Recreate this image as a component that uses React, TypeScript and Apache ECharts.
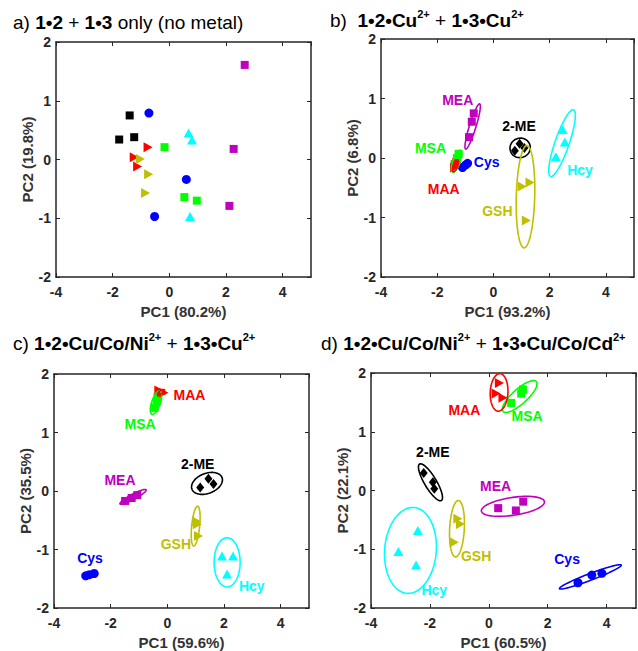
import React, { useEffect, useRef } from "react";
import * as echarts from "echarts";

// ---------- data ----------
const GROUP_NAMES = ["MEA", "2-ME", "Cys", "Hcy", "MSA", "MAA", "GSH"];

const PC1_LABELS = ["PC1 (80.2%)", "PC1 (93.2%)", "PC1 (59.6%)", "PC1 (60.5%)"];
const PC2_LABELS = ["PC2 (19.8%)", "PC2 (6.8%)", "PC2 (35.5%)", "PC2 (22.1%)"];

const X_MIN = -4, X_MAX = 5, X_STEP = 2;
const Y_MIN = -2, Y_MAX = 2, Y_STEP = 1;

// a) no metal
const scoresA: Record<string, number[][]> = {
  MEA: [[2.66, 1.61], [2.27, 0.18], [2.12, -0.79]],
  "2-ME": [[-1.4, 0.75], [-1.77, 0.34], [-1.24, 0.38]],
  Cys: [[-0.72, 0.79], [0.6, -0.34], [-0.52, -0.97]],
  Hcy: [[0.68, 0.45], [0.8, 0.33], [0.73, -0.97]],
  MSA: [[-0.17, 0.21], [0.53, -0.64], [0.97, -0.7]],
  MAA: [[-0.75, 0.21], [-1.24, 0.04], [-1.12, -0.12]],
  GSH: [[-1.02, 0.01], [-0.73, -0.25], [-0.84, -0.57]],
};

// b) Cu
const scoresB: Record<string, number[][]> = {
  MEA: [[-0.87, 0.35], [-0.77, 0.61], [-0.7, 0.75]],
  "2-ME": [[0.76, 0.12], [0.93, 0.24], [1.1, 0.17]],
  Cys: [[-1.1, -0.16], [-1.0, -0.12], [-0.92, -0.09]],
  Hcy: [[2.46, 0.48], [2.54, 0.27], [2.22, 0.02]],
  MSA: [[-1.38, -0.1], [-1.3, 0.0], [-1.24, 0.07]],
  MAA: [[-1.38, -0.16], [-1.33, -0.12], [-1.3, -0.08]],
  GSH: [[1.02, -0.48], [1.3, -0.41], [1.17, -1.05]],
};
// [group, centre x, centre y, semi-major dx, semi-major dy, minor/major ratio]
const ellipsesB: [string, number, number, number, number, number][] = [
  ["MEA", -0.74, 0.53, 0.25, 0.38, 0.14],
  ["2-ME", 0.95, 0.17, 0.34, 0.06, 0.95],
  ["Cys", -1.01, -0.125, 0.12, 0.05, 0.5],
  ["Hcy", 2.44, 0.25, 0.41, 0.56, 0.2],
  ["MSA", -1.31, -0.055, 0.14, 0.185, 0.3],
  ["MAA", -1.35, -0.13, 0.08, 0.1, 0.35],
  ["GSH", 1.14, -0.65, 0.05, 0.86, 0.18],
];
const labelsB: [string, number, number][] = [
  ["MEA", -1.27, 0.98], ["MSA", -2.24, 0.17], ["MAA", -1.77, -0.52], ["Cys", -0.24, -0.07],
  ["2-ME", 0.91, 0.53], ["GSH", 0.14, -0.89], ["Hcy", 3.08, -0.2],
];

// c) Cu/Co/Ni + Cu
const scoresC: Record<string, number[][]> = {
  MEA: [[-1.49, -0.17], [-1.26, -0.12], [-1.06, -0.07]],
  "2-ME": [[1.16, 0.06], [1.45, 0.21], [1.63, 0.12]],
  Cys: [[-2.88, -1.45], [-2.75, -1.43], [-2.58, -1.41]],
  Hcy: [[1.93, -1.11], [2.32, -1.11], [2.11, -1.42]],
  MSA: [[-0.45, 1.42], [-0.38, 1.52], [-0.35, 1.6]],
  MAA: [[-0.3, 1.72], [-0.2, 1.69], [-0.12, 1.68]],
  GSH: [[1.04, -0.52], [1.06, -0.57], [1.1, -0.77]],
};
const ellipsesC: [string, number, number, number, number, number][] = [
  ["MEA", -1.21, -0.1, 0.46, 0.12, 0.18],
  ["2-ME", 1.4, 0.13, 0.53, 0.1, 0.62],
  ["Cys", -2.72, -1.43, 0.22, 0.03, 0.3],
  ["Hcy", 2.11, -1.22, 0.0, 0.42, 0.53],
  ["MSA", -0.4, 1.51, 0.14, 0.2, 0.35],
  ["MAA", -0.22, 1.69, 0.12, 0.04, 0.4],
  ["GSH", 1.0, -0.6, 0.07, 0.34, 0.2],
];
const labelsC: [string, number, number][] = [
  ["MAA", 0.78, 1.64], ["MSA", -0.96, 1.14], ["2-ME", 1.07, 0.47], ["MEA", -1.67, 0.18],
  ["GSH", 0.3, -0.9], ["Cys", -2.73, -1.14], ["Hcy", 2.98, -1.63],
];

// d) Cu/Co/Ni + Cu/Co/Cd
const scoresD: Record<string, number[][]> = {
  MEA: [[0.32, -0.3], [0.92, -0.34], [1.17, -0.19]],
  "2-ME": [[-2.21, 0.3], [-1.9, 0.14], [-1.85, 0.03]],
  Cys: [[3.03, -1.57], [3.5, -1.44], [3.84, -1.41]],
  Hcy: [[-2.41, -0.68], [-3.07, -1.04], [-2.47, -1.27]],
  MSA: [[0.76, 1.49], [1.1, 1.65], [1.16, 1.72]],
  MAA: [[0.36, 1.83], [0.25, 1.65], [0.48, 1.58]],
  GSH: [[-1.05, -0.48], [-0.96, -0.57], [-1.17, -0.88]],
};
const ellipsesD: [string, number, number, number, number, number][] = [
  ["MEA", 0.82, -0.27, 1.07, 0.08, 0.28],
  ["2-ME", -1.98, 0.14, 0.37, -0.31, 0.28],
  ["Cys", 3.45, -1.47, 1.05, 0.2, 0.1],
  ["Hcy", -2.66, -1.02, 0.12, 0.73, 0.6],
  ["MSA", 1.05, 1.6, 0.565, 0.255, 0.33],
  ["MAA", 0.35, 1.67, 0.03, 0.32, 0.47],
  ["GSH", -1.08, -0.65, 0.05, 0.48, 0.26],
];
const labelsD: [string, number, number][] = [
  ["MAA", -0.83, 1.37], ["MSA", 1.3, 1.27], ["2-ME", -1.9, 0.66], ["MEA", 0.23, 0.08],
  ["GSH", -0.43, -1.11], ["Hcy", -1.85, -1.7], ["Cys", 2.66, -1.16],
];

// ---------- styles ----------
const FONT = '"Liberation Sans", Arial, sans-serif';
const AXIS_COLOR = "#262626";
const GROUP_COLORS: Record<string, string> = {
  MEA: "#BF00BF", "2-ME": "#000000", Cys: "#0000FF", Hcy: "#00FFFF",
  MSA: "#00FF00", MAA: "#FF0000", GSH: "#BFBF00",
};
type Mk = { symbol: string; size: number | number[]; rotate: number };
const markerStyle = (panel: number, g: string): Mk => {
  switch (g) {
    case "MEA": return { symbol: "rect", size: 8, rotate: 0 };
    case "2-ME": return panel === 0 ? { symbol: "rect", size: 8, rotate: 0 } : { symbol: "diamond", size: [8, 10], rotate: 0 };
    case "Cys": return { symbol: "circle", size: 9, rotate: 0 };
    case "Hcy": return { symbol: "triangle", size: [10, 9], rotate: 0 };
    case "MSA": return { symbol: "rect", size: 8, rotate: 0 };
    default: return { symbol: "triangle", size: [10, 9], rotate: -90 };
  }
};

const GRIDS = [
  { left: 56, top: 42, width: 255, height: 235 },
  { left: 381, top: 39, width: 253, height: 238 },
  { left: 54, top: 374, width: 255, height: 237 },
  { left: 371, top: 373, width: 265, height: 236 },
];

const TITLE_POS = [[13, 22], [330, 20], [13, 343], [321, 343]];
const TITLES = [
  "{n|a) }{b|1•2}{n| + }{b|1•3}{n| only (no metal)}",
  "{n|b)  }{b|1•2•Cu}{s|2+}{n| + }{b|1•3•Cu}{s|2+}",
  "{n|c) }{b|1•2•Cu/Co/Ni}{s|2+}{n| + }{b|1•3•Cu}{s|2+}",
  "{n|d) }{b|1•2•Cu/Co/Ni}{s|2+}{n| + }{b|1•3•Cu/Co/Cd}{s|2+}",
];

const SCORES = [scoresA, scoresB, scoresC, scoresD];
const ELLIPSES = [[], ellipsesB, ellipsesC, ellipsesD];
const LABELS = [[], labelsB, labelsC, labelsD];

function buildOption() {
  const xAxis: any[] = [];
  const yAxis: any[] = [];
  const series: any[] = [];
  const lineStyle = { color: AXIS_COLOR, width: 1.5 };
  const tick = { show: true, inside: true, length: 4, lineStyle: { color: AXIS_COLOR, width: 1 } };
  const nameStyle = { fontFamily: FONT, fontWeight: "bold", fontSize: 15, color: "#333" };
  const labelStyle = { fontFamily: FONT, fontWeight: "bold", fontSize: 14, color: AXIS_COLOR };

  GRIDS.forEach((_, i) => {
    const xb = { gridIndex: i, type: "value", min: X_MIN, max: X_MAX, interval: X_STEP, splitLine: { show: false }, axisLine: { show: true, onZero: false, lineStyle }, axisTick: tick };
    const yb = { gridIndex: i, type: "value", min: Y_MIN, max: Y_MAX, interval: Y_STEP, splitLine: { show: false }, axisLine: { show: true, onZero: false, lineStyle }, axisTick: tick };
    xAxis.push({ ...xb, position: "bottom", name: PC1_LABELS[i], nameLocation: "middle", nameGap: 27, nameTextStyle: nameStyle, axisLabel: { ...labelStyle, margin: 8, showMaxLabel: false } });
    xAxis.push({ ...xb, position: "top", axisLabel: { show: false } });
    yAxis.push({ ...yb, position: "left", name: PC2_LABELS[i], nameLocation: "middle", nameGap: 14, nameTextStyle: nameStyle, axisLabel: { ...labelStyle, margin: 5 } });
    yAxis.push({ ...yb, position: "right", axisLabel: { show: false } });

    const scores = SCORES[i];
    GROUP_NAMES.forEach((g) => {
      const mk = markerStyle(i, g);
      series.push({
        type: "scatter", xAxisIndex: 2 * i, yAxisIndex: 2 * i, name: g,
        data: scores[g], symbol: mk.symbol, symbolSize: mk.size, symbolRotate: mk.rotate,
        itemStyle: { color: GROUP_COLORS[g], opacity: 1 }, silent: true, z: 3,
      });
    });

    const ells = ELLIPSES[i] as [string, number, number, number, number, number][];
    if (ells.length) {
      series.push({
        type: "custom", xAxisIndex: 2 * i, yAxisIndex: 2 * i, silent: true, z: 4, clip: false,
        data: ells.map((e) => [e[1], e[2], e[3], e[4], e[5], GROUP_NAMES.indexOf(e[0])]),
        renderItem: (_p: any, api: any) => {
          const cx = api.value(0), cy = api.value(1), ax = api.value(2), ay = api.value(3), r = api.value(4);
          const color = GROUP_COLORS[GROUP_NAMES[api.value(5)]];
          const c = api.coord([cx, cy]);
          const e = api.coord([cx + ax, cy + ay]);
          const Ax = e[0] - c[0], Ay = e[1] - c[1];
          const Bx = -Ay * r, By = Ax * r;
          const pts: number[][] = [];
          const n = 90;
          for (let k = 0; k < n; k++) {
            const t = (k / n) * Math.PI * 2;
            pts.push([c[0] + Math.cos(t) * Ax + Math.sin(t) * Bx, c[1] + Math.cos(t) * Ay + Math.sin(t) * By]);
          }
          return { type: "polygon", shape: { points: pts }, style: { fill: "none", stroke: color, lineWidth: 1.6 } };
        },
      });
    }

    const labs = LABELS[i] as [string, number, number][];
    if (labs.length) {
      series.push({
        type: "custom", xAxisIndex: 2 * i, yAxisIndex: 2 * i, silent: true, z: 5, clip: false,
        data: labs.map((l) => [l[1], l[2], GROUP_NAMES.indexOf(l[0])]),
        renderItem: (_p: any, api: any) => {
          const p = api.coord([api.value(0), api.value(1)]);
          const g = GROUP_NAMES[api.value(2)];
          return {
            type: "text", x: p[0], y: p[1],
            style: { text: g, fill: GROUP_COLORS[g], fontFamily: FONT, fontWeight: "bold", fontSize: 14, align: "center", verticalAlign: "middle" },
          };
        },
      });
    }
  });

  const rich = {
    n: { fontFamily: FONT, fontSize: 19, fontWeight: "normal", fill: "#000", lineHeight: 23 },
    b: { fontFamily: FONT, fontSize: 19, fontWeight: "bold", fill: "#000", lineHeight: 23 },
    s: { fontFamily: FONT, fontSize: 11, fontWeight: "bold", fill: "#000", verticalAlign: "top", lineHeight: 13 },
  };
  const graphic = TITLES.map((t, i) => ({
    type: "text", x: TITLE_POS[i][0], y: TITLE_POS[i][1], silent: true,
    style: { text: t, rich, verticalAlign: "middle", align: "left" },
  }));

  return {
    animation: false,
    backgroundColor: "#ffffff",
    grid: GRIDS.map((g) => ({ ...g, containLabel: false })),
    xAxis, yAxis, series, graphic,
  };
}

export default function App() {
  const ref = useRef<HTMLDivElement>(null);
  useEffect(() => {
    if (!ref.current) return;
    const chart = echarts.init(ref.current, undefined, { renderer: "svg" });
    chart.setOption(buildOption() as any);
    return () => chart.dispose();
  }, []);
  return <div ref={ref} style={{ position: "fixed", left: 0, top: 0, width: 638, height: 651, background: "#fff" }} />;
}
